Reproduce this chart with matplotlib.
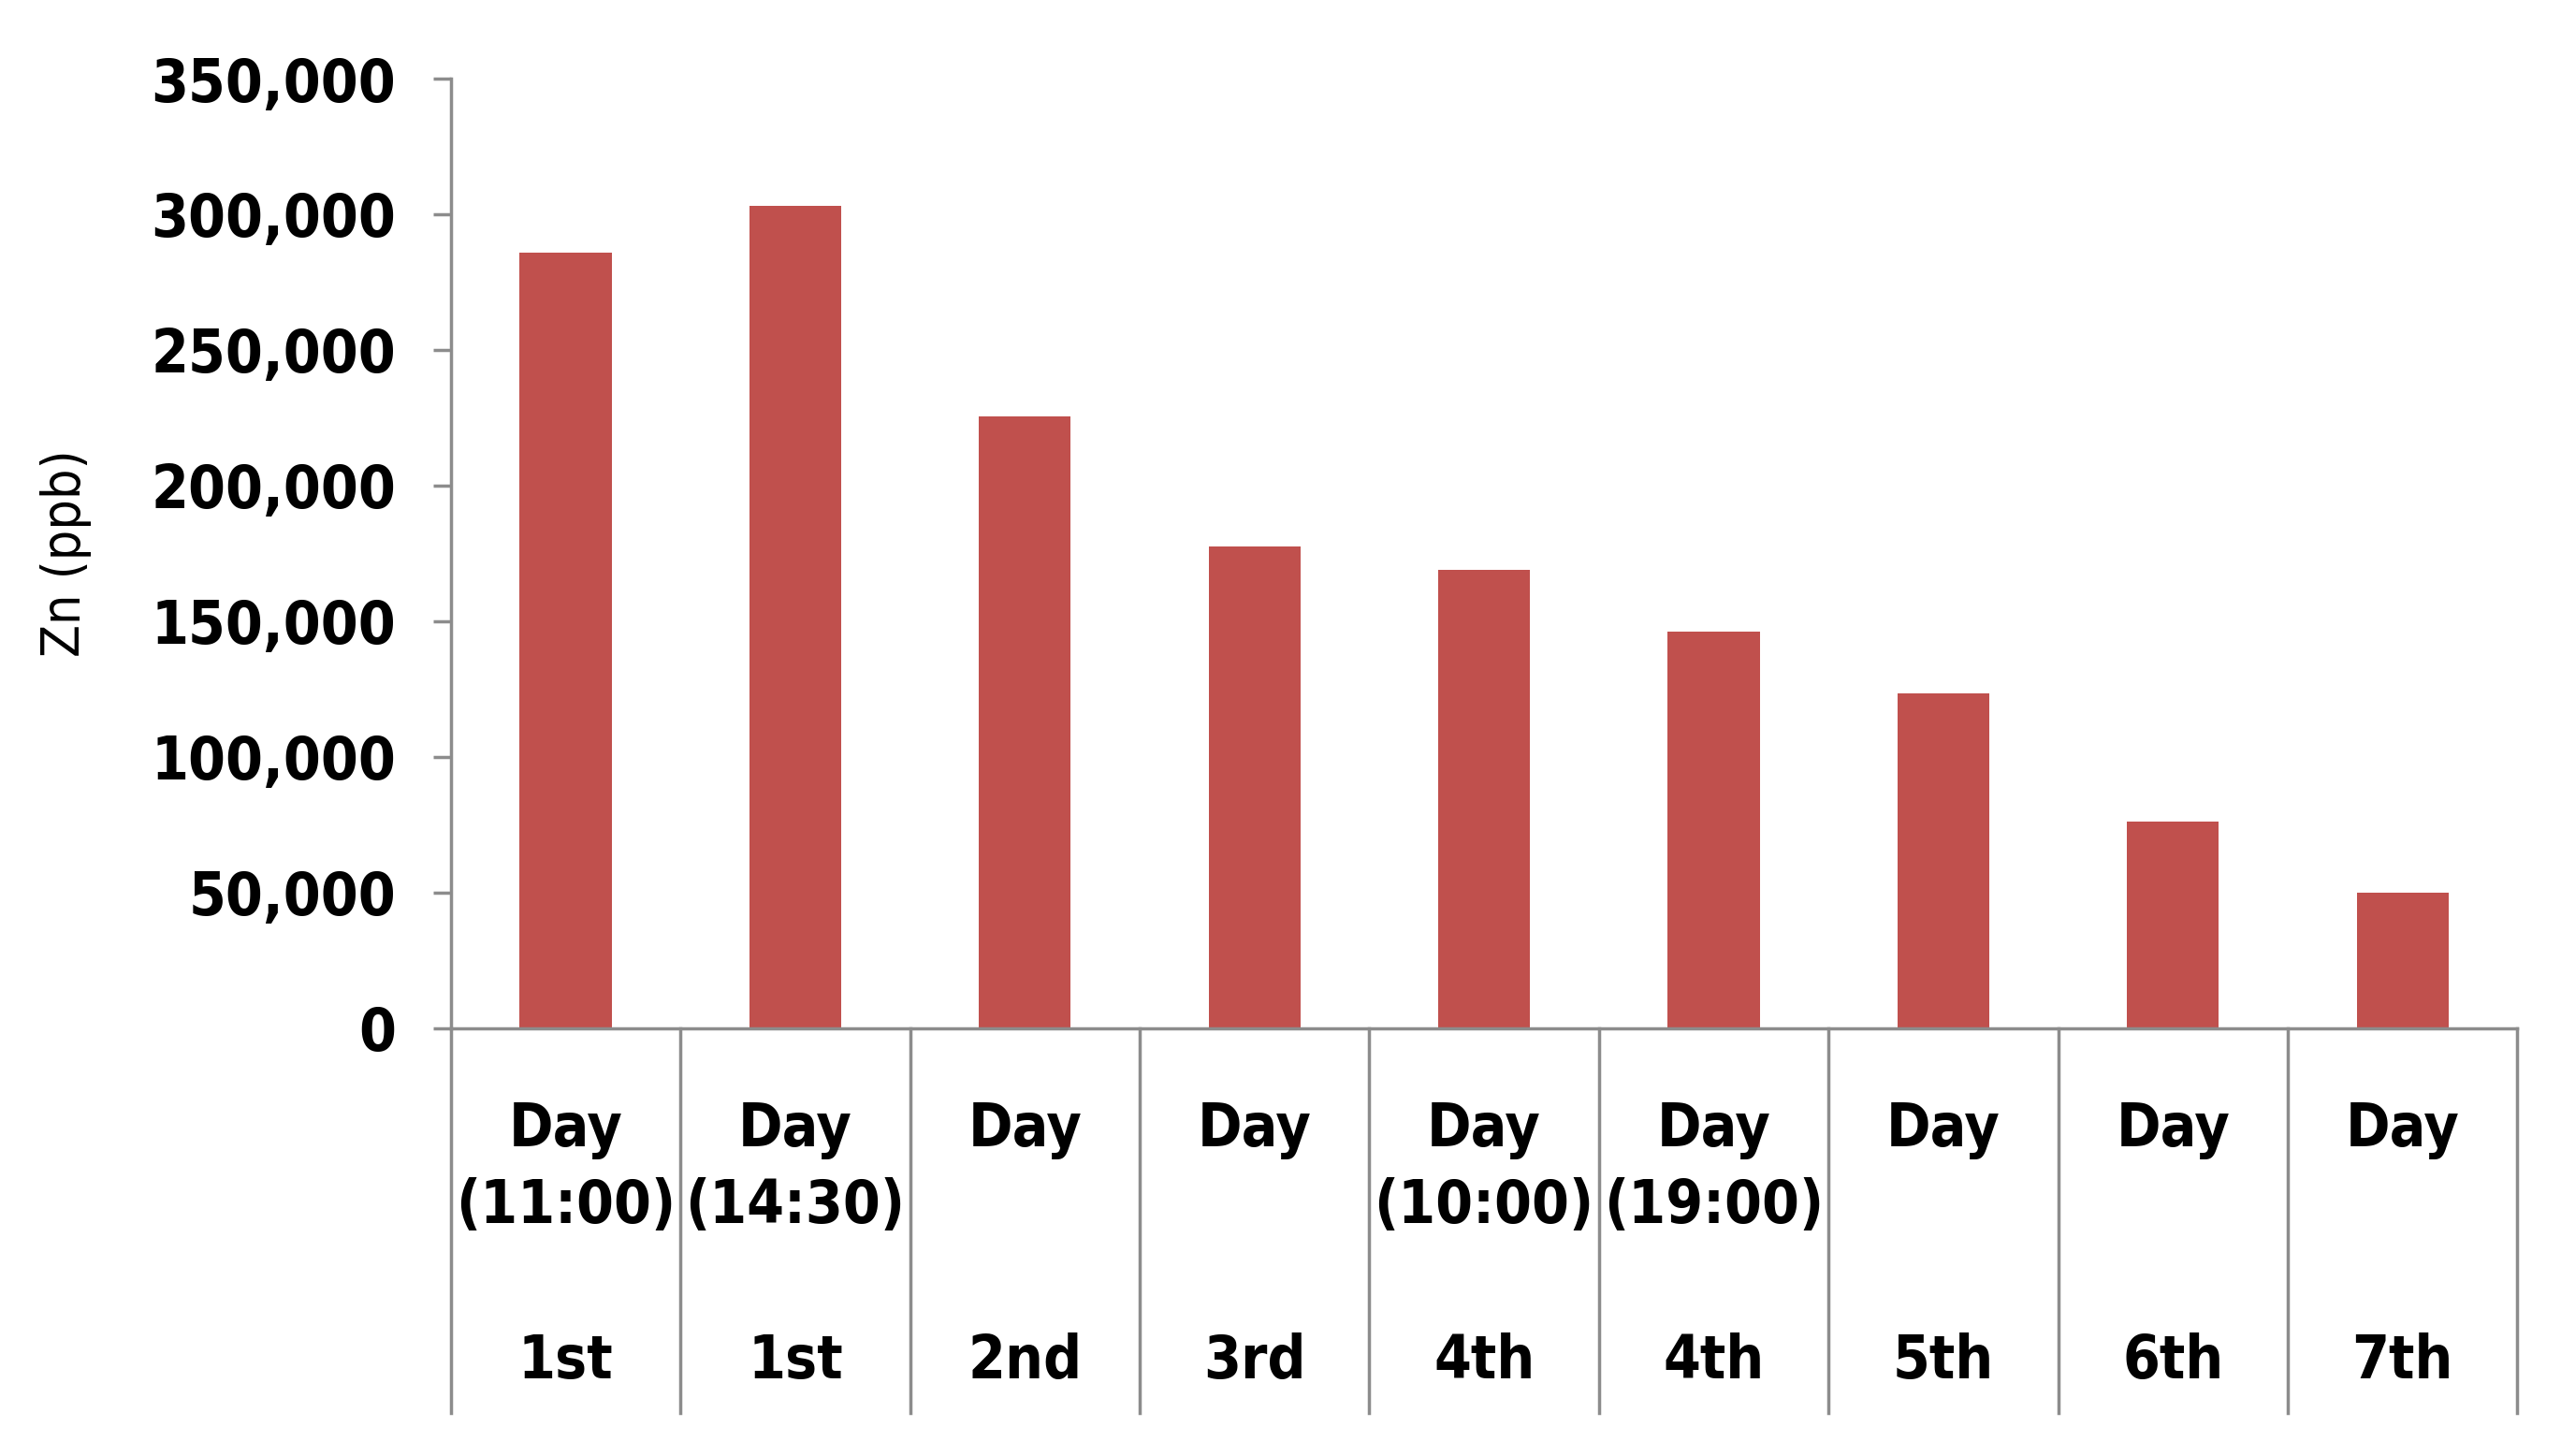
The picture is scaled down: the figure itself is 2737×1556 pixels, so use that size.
import numpy as np
import matplotlib.pyplot as plt
from matplotlib.ticker import FuncFormatter

# valores (Zn en ppb)
dias = ["1st", "1st", "2nd", "3rd", "4th", "4th", "5th", "6th", "7th"]
horas = ["(11:00)", "(14:30)", "", "", "(10:00)", "(19:00)", "", "", ""]
zn_ppb = [286000, 303000, 225500, 177500, 169000, 146000, 123500, 76000, 50000]
y_ticks = [0, 50000, 100000, 150000, 200000, 250000, 300000, 350000]

color_barra = "#C0504D"
color_eje = "#8C8C8C"

fig = plt.figure(figsize=(27.37, 15.56), dpi=100)
ax = fig.add_axes([0.176, 0.294, 0.807, 0.652])

x = np.arange(len(zn_ppb))
ax.bar(x, zn_ppb, width=0.4, color=color_barra, zorder=2)

ax.set_xlim(-0.5, len(zn_ppb) - 0.5)
ax.set_ylim(0, 350000)
ax.set_yticks(y_ticks)
ax.yaxis.set_major_formatter(FuncFormatter(lambda v, p: f"{int(v):,}"))
ax.tick_params(axis="y", direction="out", length=14, width=2.5, color=color_eje,
               pad=28)
fuente = dict(fontsize=46, fontweight="bold", fontstretch="condensed")
for lbl in ax.get_yticklabels():
    lbl.set(**fuente)
ax.set_xticks([])

for s in ["top", "right"]:
    ax.spines[s].set_visible(False)
for s in ["left", "bottom"]:
    ax.spines[s].set_color(color_eje)
    ax.spines[s].set_linewidth(2.5)

# eje de categorias en dos niveles, estilo Excel
trans = ax.get_xaxis_transform()
for b in np.arange(-0.5, len(zn_ppb), 1.0):
    ax.plot([b, b], [0, -0.406], transform=trans, color=color_eje, lw=2.5,
            clip_on=False, zorder=1)

for i in range(len(zn_ppb)):
    ax.text(x[i], -0.108, "Day", transform=trans, ha="center", va="center", **fuente)
    if horas[i]:
        ax.text(x[i], -0.188, horas[i], transform=trans, ha="center", va="center", **fuente)
    ax.text(x[i], -0.351, dias[i], transform=trans, ha="center", va="center", **fuente)

ax.set_ylabel("Zn (ppb)", fontsize=41, fontstretch="condensed", labelpad=46)

fig.savefig("out.png", dpi=100)
